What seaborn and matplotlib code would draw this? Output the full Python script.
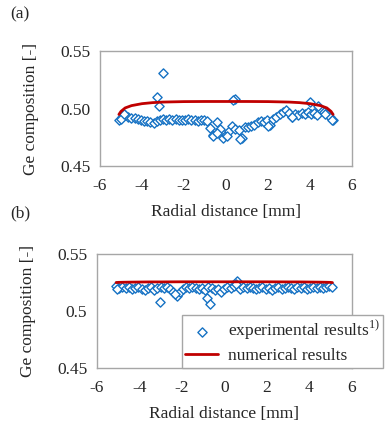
import matplotlib
matplotlib.use("Agg")
import matplotlib.pyplot as plt
import seaborn as sns
import pandas as pd

# ---------------- data ----------------
x_grid = [-5.10, -4.95, -4.80, -4.65, -4.50, -4.35, -4.20, -4.05, -3.90, -3.75,
          -3.60, -3.45, -3.30, -3.15, -3.00, -2.85, -2.70, -2.55, -2.40, -2.25,
          -2.10, -1.95, -1.80, -1.65, -1.50, -1.35, -1.20, -1.05, -0.90, -0.75,
          -0.60, -0.45, -0.30, -0.15, 0.00, 0.15, 0.30, 0.45, 0.60, 0.75,
          0.90, 1.05, 1.20, 1.35, 1.50, 1.65, 1.80, 1.95, 2.10, 2.25,
          2.40, 2.55, 2.70, 2.85, 3.00, 3.15, 3.30, 3.45, 3.60, 3.75,
          3.90, 4.05, 4.20, 4.35, 4.50, 4.65, 4.80, 4.95, 5.10]

exp_a = [0.490, 0.493, 0.494, 0.493, 0.492, 0.492, 0.491, 0.490, 0.489, 0.489,
         0.488, 0.487, 0.489, 0.490, 0.491, 0.490, 0.491, 0.490, 0.491, 0.490,
         0.490, 0.490, 0.491, 0.490, 0.490, 0.489, 0.490, 0.490, 0.489, 0.483,
         0.477, 0.488, 0.482, 0.474, 0.477, 0.480, 0.485, 0.482, 0.481, 0.474,
         0.484, 0.484, 0.485, 0.486, 0.488, 0.489, 0.488, 0.490, 0.486, 0.491,
         0.493, 0.495, 0.497, 0.499, 0.496, 0.493, 0.495, 0.494, 0.496, 0.495,
         0.497, 0.495, 0.496, 0.494, 0.499, 0.497, 0.495, 0.493, 0.490]

extra_x_a = [-3.27, -3.19, -2.99, 0.43, 0.35, 4.00, 4.40, -5.00, -4.85,
             -0.60, -0.45, 0.05, 0.67, 2.02, 3.13, 4.71, 5.03]
extra_a = [0.510, 0.502, 0.531, 0.508, 0.507, 0.5055, 0.502, 0.491, 0.495,
           0.4765, 0.479, 0.476, 0.4736, 0.485, 0.4925, 0.4954, 0.4896]

exp_b = [0.522, 0.520, 0.521, 0.520, 0.521, 0.519, 0.520, 0.521, 0.519, 0.518,
         0.520, 0.521, 0.518, 0.520, 0.521, 0.520, 0.521, 0.519, 0.517, 0.513,
         0.517, 0.519, 0.521, 0.520, 0.521, 0.520, 0.519, 0.520, 0.518, 0.521,
         0.520, 0.518, 0.519, 0.517, 0.519, 0.521, 0.520, 0.522, 0.526, 0.519,
         0.521, 0.520, 0.521, 0.520, 0.519, 0.520, 0.521, 0.519, 0.520, 0.518,
         0.520, 0.521, 0.519, 0.520, 0.521, 0.520, 0.519, 0.521, 0.520, 0.521,
         0.519, 0.520, 0.521, 0.520, 0.521, 0.520, 0.521, 0.522, 0.521]

extra_x_b = [-3.03, -0.83, -0.67, -5.05, -2.30, 0.55]
extra_b = [0.508, 0.5115, 0.506, 0.519, 0.515, 0.524]

num_x = [-5.1, -5.0, -4.8, -4.5, -4.0, -3.5, -3.0, -2.0, -1.0, 0.0,
         1.0, 2.0, 3.0, 3.5, 4.0, 4.5, 4.8, 5.0, 5.1]
num_a = [0.4948, 0.4975, 0.5005, 0.5025, 0.5042, 0.5051, 0.5056, 0.5060, 0.5061, 0.5061,
         0.5061, 0.5060, 0.5056, 0.5051, 0.5042, 0.5025, 0.5005, 0.4975, 0.4948]
num_b = [0.5249, 0.5251, 0.5252, 0.5253, 0.5254, 0.5255, 0.5255, 0.5256, 0.5256, 0.5256,
         0.5256, 0.5256, 0.5255, 0.5255, 0.5254, 0.5253, 0.5252, 0.5251, 0.5249]

x_ticks = [-6, -4, -2, 0, 2, 4, 6]
x_tick_labels = ["-6", "-4", "-2", "0", "2", "4", "6"]
y_ticks = [0.45, 0.50, 0.55]
y_labels_a = ["0.45", "0.50", "0.55"]
y_labels_b = ["0.45", "0.5", "0.55"]

xlabel = "Radial distance [mm]"
ylabel = "Ge composition [-]"
legend_exp = r"experimental results$^{\mathrm{1)}}$"
legend_num = "numerical results"

# ---------------- style ----------------
sns.set_style("white")
plt.rcParams["font.family"] = ["Liberation Serif", "DejaVu Serif"]
plt.rcParams["mathtext.fontset"] = "custom"
plt.rcParams["mathtext.rm"] = "Liberation Serif"
plt.rcParams["axes.unicode_minus"] = False

BLUE = "#1672c4"
RED = "#c00000"
SPINE = "#a6a6a6"
FS = 12.5

fig = plt.figure(figsize=(3.90, 4.24), dpi=100)
ax_a = fig.add_axes([0.2564, 0.6085, 0.6462, 0.2712])
ax_b = fig.add_axes([0.2487, 0.1321, 0.6526, 0.2689])

df_a = pd.DataFrame({"x": x_grid + extra_x_a, "y": exp_a + extra_a})
df_b = pd.DataFrame({"x": x_grid + extra_x_b, "y": exp_b + extra_b})
df_na = pd.DataFrame({"x": num_x, "y": num_a})
df_nb = pd.DataFrame({"x": num_x, "y": num_b})

for ax, df, dfn, ylabs in [(ax_a, df_a, df_na, y_labels_a),
                           (ax_b, df_b, df_nb, y_labels_b)]:
    sns.scatterplot(data=df, x="x", y="y", ax=ax, marker="D", s=22,
                    facecolor="white", edgecolor=BLUE, linewidth=1.0,
                    label=legend_exp, zorder=2)
    sns.lineplot(data=dfn, x="x", y="y", ax=ax, color=RED, linewidth=2.0,
                 label=legend_num, zorder=3, sort=True)
    ax.set_xlim(-6, 6)
    ax.set_ylim(0.45, 0.55)
    ax.set_xticks(x_ticks)
    ax.set_xticklabels(x_tick_labels, fontsize=FS)
    ax.set_yticks(y_ticks)
    ax.set_yticklabels(ylabs, fontsize=FS)
    ax.set_xlabel(xlabel, fontsize=FS, labelpad=7)
    ax.set_ylabel(ylabel, fontsize=FS, labelpad=15)
    ax.tick_params(axis="x", direction="in", length=5, width=1, color=SPINE, pad=9)
    ax.tick_params(axis="y", direction="in", length=5, width=1, color=SPINE, pad=7)
    for s in ax.spines.values():
        s.set_color(SPINE)
        s.set_linewidth(1.0)
    ax.set_facecolor("white")

ax_a.get_legend().remove()
handles, labels = ax_b.get_legend_handles_labels()
ax_b.get_legend().remove()
leg = ax_b.legend(handles, labels, loc="upper left",
                  bbox_to_anchor=(181.7 / 390, 1 - 315 / 424),
                  bbox_transform=fig.transFigure, fontsize=FS,
                  frameon=True, fancybox=False, edgecolor=SPINE,
                  framealpha=1, borderpad=0.2, handlelength=1.9,
                  handletextpad=0.55, labelspacing=0.3, borderaxespad=0)
leg.get_frame().set_linewidth(1.0)

fig.text(10 / 390, 1 - 14 / 424, "(a)", fontsize=FS, va="center", ha="left")
fig.text(10 / 390, 1 - 213 / 424, "(b)", fontsize=FS, va="center", ha="left")

fig.savefig("out.png", dpi=100)
